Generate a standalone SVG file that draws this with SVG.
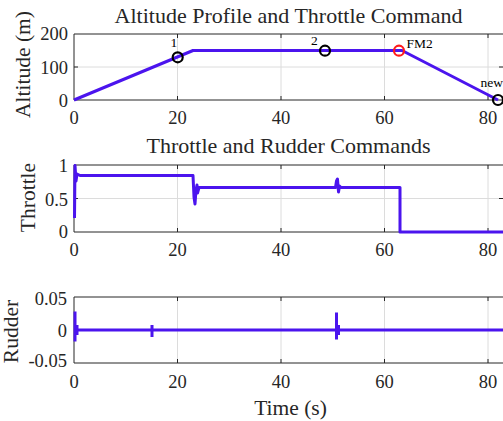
<svg xmlns="http://www.w3.org/2000/svg" width="503" height="421" viewBox="0 0 503 421" font-family="'Liberation Serif', 'Times New Roman', serif">
  <style>
    text { font-family: "Liberation Serif", "Times New Roman", serif; fill: #262626; }
    .title { font-size: 22px; text-anchor: middle; }
    .ylab { font-size: 21.5px; text-anchor: middle; }
    .tick { font-size: 18.5px; font-family: "Liberation Serif", "Times New Roman", serif; }
    .tx { text-anchor: middle; }
    .ty { text-anchor: end; }
    .grid { stroke: #dcdcdc; stroke-width: 1; fill: none; }
    .box { stroke: #262626; stroke-width: 1; fill: none; }
    .tk { stroke: #262626; stroke-width: 1; }
    .data { stroke: #4b14ee; stroke-width: 3; fill: none; stroke-linejoin: round; }
    .mark { fill: none; stroke: #000; stroke-width: 2.2; }
    .red { stroke: #ff1a1a; }
    .lbl { font-size: 13.5px; fill: #000; }
  </style>
  <rect width="503" height="421" fill="#fff"/>

  <!-- Panel 1: altitude profile -->
  <g id="altitude-panel">
    <text class="title" x="288.5" y="23">Altitude Profile and Throttle Command</text>
    <path class="grid" d="M177.5,34V100M281,34V100M384.5,34V100M488,34V100M74,67H503"/>
    <path class="tk" d="M74,67h4M177.5,100v-4M281,100v-4M384.5,100v-4M488,100v-4M177.5,34v4M281,34v4M384.5,34v4M488,34v4M503,67h-4"/>
    <path class="box" d="M503,34H74V100H503"/>
    <path class="data" d="M74,100L193,50.5L402,50.5L498,100"/>
    <circle class="mark" cx="177.7" cy="57.3" r="5"/>
    <circle class="mark" cx="325" cy="50.7" r="5"/>
    <circle class="mark red" cx="399" cy="50.7" r="5"/>
    <circle class="mark" cx="498" cy="100" r="5"/>
    <text class="lbl" x="170.5" y="47">1</text>
    <text class="lbl" x="311" y="45">2</text>
    <text class="lbl" x="406.5" y="47.5">FM2</text>
    <text class="lbl" x="480.5" y="87">new</text>
    <text class="tick ty" x="68" y="40">200</text>
    <text class="tick ty" x="68" y="73.5">100</text>
    <text class="tick ty" x="68" y="106.5">0</text>
    <text class="tick tx" x="74" y="124">0</text>
    <text class="tick tx" x="177.5" y="124">20</text>
    <text class="tick tx" x="281" y="124">40</text>
    <text class="tick tx" x="384.5" y="124">60</text>
    <text class="tick tx" x="488" y="124">80</text>
    <text class="ylab" transform="translate(30,64.5) rotate(-90)">Altitude (m)</text>
  </g>

  <!-- Panel 2: throttle command -->
  <g id="throttle-panel">
    <text class="title" x="288.5" y="153">Throttle and Rudder Commands</text>
    <path class="grid" d="M177.5,165V232M281,165V232M384.5,165V232M488,165V232M74,198.5H503"/>
    <path class="tk" d="M74,198.5h4M177.5,232v-4M281,232v-4M384.5,232v-4M488,232v-4M177.5,165v4M281,165v4M384.5,165v4M488,165v4M503,198.5h-4"/>
    <path class="box" d="M503,165H74V232H503"/>
    <path class="data" d="M74.5,218L75,165.5L76,181L77,174L80,175.5L193,175.5L194,197L195,204L196,190L197,185L197.5,193L199,187.5L335.5,187.5L336.5,181L337.5,179L338.5,192L339.5,186L341,187.5L400,187.5L400,232L503,232"/>
    <text class="tick ty" x="68" y="172">1</text>
    <text class="tick ty" x="68" y="205.5">0.5</text>
    <text class="tick ty" x="68" y="238">0</text>
    <text class="tick tx" x="74" y="256">0</text>
    <text class="tick tx" x="177.5" y="256">20</text>
    <text class="tick tx" x="281" y="256">40</text>
    <text class="tick tx" x="384.5" y="256">60</text>
    <text class="tick tx" x="488" y="256">80</text>
    <text class="ylab" transform="translate(35,197.5) rotate(-90)">Throttle</text>
  </g>

  <!-- Panel 3: rudder command -->
  <g id="rudder-panel">
    <path class="grid" d="M177.5,297V363M281,297V363M384.5,297V363M488,297V363M74,330H503"/>
    <path class="tk" d="M74,330h4M177.5,363v-4M281,363v-4M384.5,363v-4M488,363v-4M177.5,297v4M281,297v4M384.5,297v4M488,297v4M503,330h-4"/>
    <path class="box" d="M503,297H74V363H503"/>
    <path class="data" d="M74,330H503"/>
    <path class="data" d="M75,311.5V341.5M77,325V335M152,325V337M336.5,312.5V339.5M338.5,325V335"/>
    <text class="tick ty" x="67" y="305">0.05</text>
    <text class="tick ty" x="67" y="336.5">0</text>
    <text class="tick ty" x="67" y="367">-0.05</text>
    <text class="tick tx" x="74" y="388">0</text>
    <text class="tick tx" x="177.5" y="388">20</text>
    <text class="tick tx" x="281" y="388">40</text>
    <text class="tick tx" x="384.5" y="388">60</text>
    <text class="tick tx" x="488" y="388">80</text>
    <text class="ylab" transform="translate(18,331.5) rotate(-90)">Rudder</text>
    <text class="ylab" x="290.5" y="415">Time (s)</text>
  </g>
</svg>
